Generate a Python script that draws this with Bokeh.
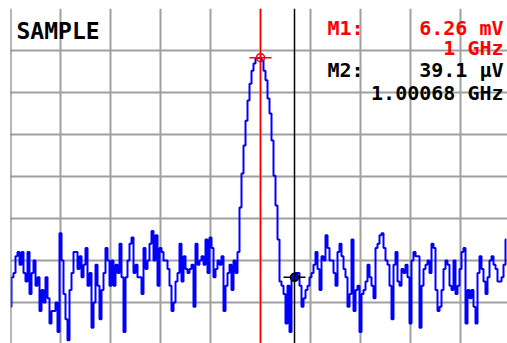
import numpy as np
from bokeh.plotting import figure
from bokeh.models import Span, Label, FixedTicker
from bokeh.embed import file_html
from bokeh.resources import INLINE

# Sweep: start frequency (MHz) and point spacing (MHz)
start_freq_mhz = 995.0
step_mhz = 0.04

# Trace level in dB (10 dB / division, top of screen = 0 dB)
trace_db = [
    -71, -64, -63, -59, -58, -61, -58, -63, -65, -58,
    -68, -63, -60, -66, -64, -72, -67, -70, -64, -69,
    -75, -72, -72, -70, -77, -53.5, -60, -68, -74, -79,
    -67, -63, -58, -58, -62, -59, -64, -61, -57, -66,
    -63, -76, -70, -61, -66, -74, -67, -63, -57, -60,
    -66, -60, -66, -61, -63, -56, -64, -77, -64, -60,
    -56, -54.5, -63, -61, -64, -64, -68, -57, -62, -60,
    -56, -53, -60, -54, -66, -57, -58, -60, -60, -62,
    -66, -72, -70, -65, -63, -56, -65, -59, -62, -63,
    -62, -61, -71, -56, -61, -60, -59, -61, -55, -63,
    -54.5, -57, -64, -62, -60, -61, -59, -72, -66, -63,
    -61, -67, -60, -63, -58, -47.4, -39.3, -32.6, -26.7, -21.9,
    -17.9, -14.8, -13.1, -11.9, -11.8, -11.7, -12.4, -14.8, -17.1, -21.4,
    -25, -31.4, -39.8, -46.9, -55, -65, -66, -68, -75, -66,
    -77, -64, -64, -63, -63, -66, -71, -69, -67, -66,
    -64, -63, -61, -58, -62, -67, -59, -60, -54, -57,
    -60, -60, -63, -66, -58, -56, -59, -62, -64, -71,
    -68, -55, -72, -67, -66, -77, -68, -67, -65, -61,
    -64, -66, -69, -57, -56, -54, -53.5, -57, -60, -61,
    -66, -74, -61, -58, -65, -66, -62, -63, -61, -64,
    -75, -60, -58, -59, -59, -76, -66, -62, -61, -60,
    -63, -56, -57, -67, -72, -71, -67, -62, -60, -61,
    -66, -67, -60, -68, -66, -62, -58, -57, -75, -67,
    -69, -67, -71, -75, -63, -59, -62, -65, -68, -64,
    -60, -59, -61, -62, -65, -65, -64, -61, -55,
]

# Markers
marker_names = ["M1:", "M2:"]
marker_freq_mhz = [1000.0, 1000.68]
marker_level_db = [-11.7, -64.0]
marker_value_text = ["6.26 mV", "39.1 \u00b5V"]
marker_freq_text = ["1 GHz", "1.00068 GHz"]
marker_colors = ["#ff0000", "#000000"]

# Graticule
x_grid_ticks = [995, 996, 997, 998, 999, 1000, 1001, 1002, 1003, 1004]
y_grid_ticks = [0, -10, -20, -30, -40, -50, -60, -70]
mode_text = "SAMPLE"

freq = start_freq_mhz + step_mhz * np.arange(len(trace_db))

p = figure(width=507, height=343, x_range=(995.0, 1004.94), y_range=(-79.76, 0.0),
           output_backend="svg", toolbar_location=None,
           x_axis_location=None, y_axis_location=None,
           min_border_left=10, min_border_right=0, min_border_top=8, min_border_bottom=0)
p.outline_line_color = None
p.background_fill_color = "white"
p.border_fill_color = "white"

p.xgrid.ticker = FixedTicker(ticks=x_grid_ticks)
p.ygrid.ticker = FixedTicker(ticks=y_grid_ticks)
for g in (p.xgrid, p.ygrid):
    g.grid_line_color = "#a0a0a0"
    g.grid_line_width = 2
    g.grid_line_alpha = 1.0

p.add_layout(Span(location=x_grid_ticks[0], dimension="height", line_color="#707070", line_width=2))

p.step(freq, trace_db, mode="center", line_color="#0000ff", line_width=2)

for f, lvl, col in zip(marker_freq_mhz, marker_level_db, marker_colors):
    p.add_layout(Span(location=f, dimension="height", line_color=col, line_width=1.5))

# M1 marker
p.scatter([marker_freq_mhz[0]], [marker_level_db[0]], marker="dash", size=22,
          line_color=marker_colors[0], line_width=1.5)
p.scatter([marker_freq_mhz[0]], [marker_level_db[0]], marker="circle", size=8,
          fill_color=None, line_color=marker_colors[0], line_width=1.5)
# M2 marker
p.scatter([marker_freq_mhz[1]], [marker_level_db[1]], marker="dash", size=22,
          line_color=marker_colors[1], line_width=1.5)
p.scatter([marker_freq_mhz[1]], [marker_level_db[1]], marker="circle", size=8,
          fill_color="#0000ff", line_color=marker_colors[1], line_width=1.5)

font = "DejaVu Sans Mono"
p.add_layout(Label(x=995.12, y=-5.24, text=mode_text, text_font=font, text_font_style="bold",
                   text_font_size="23px", text_color="black", text_baseline="alphabetic"))

name_x = 1001.34
right_x = 1004.86
rows = [(-4.76, -9.52), (-14.76, -20.0)]
for i in range(2):
    y1, y2 = rows[i]
    col = marker_colors[i]
    p.add_layout(Label(x=name_x, y=y1, text=marker_names[i], text_font=font, text_font_style="bold",
                       text_font_size="20px", text_color=col, text_baseline="alphabetic"))
    p.add_layout(Label(x=right_x, y=y1, text=marker_value_text[i], text_font=font, text_font_style="bold",
                       text_font_size="20px", text_color=col, text_baseline="alphabetic",
                       text_align="right"))
    p.add_layout(Label(x=right_x, y=y2, text=marker_freq_text[i], text_font=font, text_font_style="bold",
                       text_font_size="20px", text_color=col, text_baseline="alphabetic",
                       text_align="right"))

open("out.html", "w").write(file_html(p, INLINE))
